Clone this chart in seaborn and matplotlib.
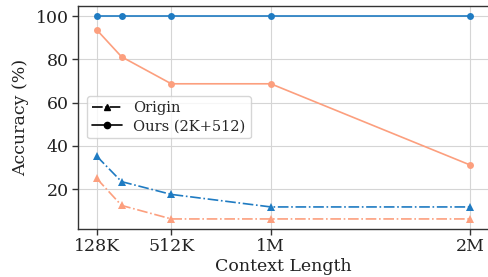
import matplotlib
matplotlib.use("Agg")
import matplotlib.pyplot as plt
from matplotlib.lines import Line2D
import seaborn as sns

context_k = [128, 256, 512, 1024, 2048]
tick_pos = [128, 512, 1024, 2048]
tick_labels = ["128K", "512K", "1M", "2M"]

ours_blue = [100, 100, 100, 100, 100]
ours_orange = [93.75, 81.25, 68.75, 68.75, 31.25]
origin_blue = [35.3, 23.5, 17.6, 11.8, 11.8]
origin_orange = [25.0, 12.5, 6.25, 6.25, 6.25]

blue = "#1f7bc2"
orange = "#fc9f7e"

sns.set_theme(style="whitegrid")
plt.rcParams["font.family"] = ["DejaVu Serif"]

fig = plt.figure(figsize=(4.89, 2.77), dpi=100)
ax = fig.add_axes([0.1595, 0.173, 0.8395, 0.805])

lw = 1.2
sns.lineplot(x=context_k, y=ours_blue, ax=ax, color=blue, marker="o", markersize=5,
             markeredgewidth=0, linewidth=lw, linestyle="-")
sns.lineplot(x=context_k, y=ours_orange, ax=ax, color=orange, marker="o", markersize=5,
             markeredgewidth=0, linewidth=lw, linestyle="-")
sns.lineplot(x=context_k, y=origin_blue, ax=ax, color=blue, marker="^", markersize=6,
             markeredgewidth=0, linewidth=lw, linestyle="-.")
sns.lineplot(x=context_k, y=origin_orange, ax=ax, color=orange, marker="^", markersize=6,
             markeredgewidth=0, linewidth=lw, linestyle="-.")

ax.set_xticks(tick_pos)
ax.set_xticklabels(tick_labels)
ax.set_yticks([20, 40, 60, 80, 100])
ax.tick_params(axis="both", labelsize=12.5, length=4, width=1, color="#333333",
               bottom=True, left=True, colors="#222222", pad=2.5)
ax.set_xlabel("Context Length", fontsize=12.5, color="#222222", labelpad=2)
ax.set_ylabel("Accuracy (%)", fontsize=12.5, color="#222222", labelpad=5)
for s in ax.spines.values():
    s.set_color("#333333")
    s.set_linewidth(1.0)
ax.grid(True, color="#d5d5d5", linewidth=0.8)

handles = [
    Line2D([0], [0], color="black", linestyle="-.", marker="^", markersize=4.5, linewidth=1.2),
    Line2D([0], [0], color="black", linestyle="-", marker="o", markersize=4.5, linewidth=1.2),
]
ax.legend(handles, ["Origin", "Ours (2K+512)"], loc="upper left",
          bbox_to_anchor=(0.005, 0.63), fontsize=10.5, frameon=True,
          handlelength=2.0, borderpad=0.35, labelspacing=0.3, handletextpad=0.8)

fig.savefig("out.png", dpi=100)
